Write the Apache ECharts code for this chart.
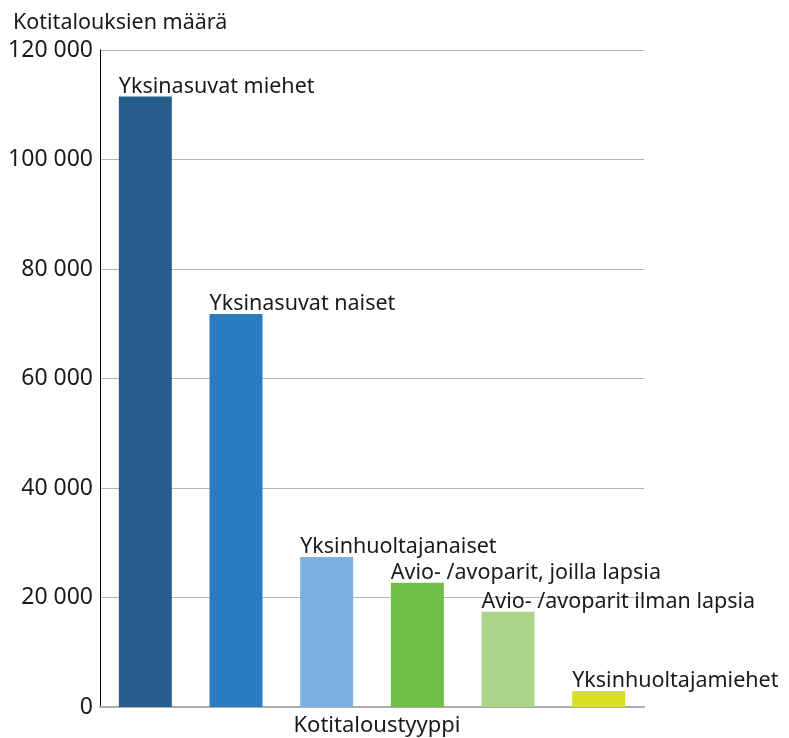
<!DOCTYPE html>
<html>
<head>
<meta charset="utf-8">
<script src="https://cdn.jsdelivr.net/npm/echarts@6/dist/echarts.min.js"></script>
<style>html,body{margin:0;padding:0;background:#fff;overflow:hidden}#c{width:789px;height:738px}</style>
</head>
<body>
<div id="c"></div>
<script>
const categories = ['Yksinasuvat miehet','Yksinasuvat naiset','Yksinhuoltajanaiset','Avio- /avoparit, joilla lapsia','Avio- /avoparit ilman lapsia','Yksinhuoltajamiehet'];
const values = [111500, 71800, 27400, 22700, 17400, 2900];
const barColors = ['#265d8d','#297cbf','#7db0de','#72bf45','#abd38a','#d9df21'];
const yTickLabels = ['0','20 000','40 000','60 000','80 000','100 000','120 000'];
const yTitle = 'Kotitalouksien määrä';
const xTitle = 'Kotitaloustyyppi';

const FONT = '"Noto Sans", sans-serif';
const chart = echarts.init(document.getElementById('c'), null, {renderer:'canvas', width: 789, height: 738});
chart.setOption({
  animation: false,
  title: {
    text: yTitle, left: 8, top: 7,
    textStyle: {fontFamily: FONT, fontSize: 21.5, fontWeight: 'normal', color: '#1a1a1a'}
  },
  grid: {left: 100, right: 145, top: 50, bottom: 31, containLabel: false, outerBoundsMode: 'none'},
  xAxis: {
    type: 'category', data: categories,
    name: xTitle, nameLocation: 'middle', nameGap: 8,
    nameTextStyle: {fontFamily: FONT, fontSize: 22, color: '#1a1a1a', padding: [0,0,0,10]},
    axisLine: {show: true, lineStyle: {color: '#aeaea6', width: 2}},
    axisTick: {show: false},
    axisLabel: {show: false}
  },
  yAxis: {
    type: 'value', min: 0, max: 120000, interval: 20000,
    axisLine: {show: true, lineStyle: {color: '#000', width: 1}},
    axisTick: {show: false},
    axisLabel: {
      fontFamily: FONT, fontSize: 23, color: '#1a1a1a', margin: 7,
      formatter: v => yTickLabels[Math.round(v / 20000)]
    },
    splitLine: {show: true, lineStyle: {color: '#b5b5ad', width: 1}}
  },
  series: [{
    type: 'bar',
    barWidth: 53,
    data: values.map((v, i) => ({value: v, itemStyle: {color: barColors[i]}})),
    label: {
      show: true,
      position: [0, 1],
      align: 'left',
      verticalAlign: 'bottom',
      fontFamily: FONT, fontSize: 21.5, color: '#1a1a1a',
      formatter: p => p.name
    }
  }]
});
</script>
</body>
</html>
